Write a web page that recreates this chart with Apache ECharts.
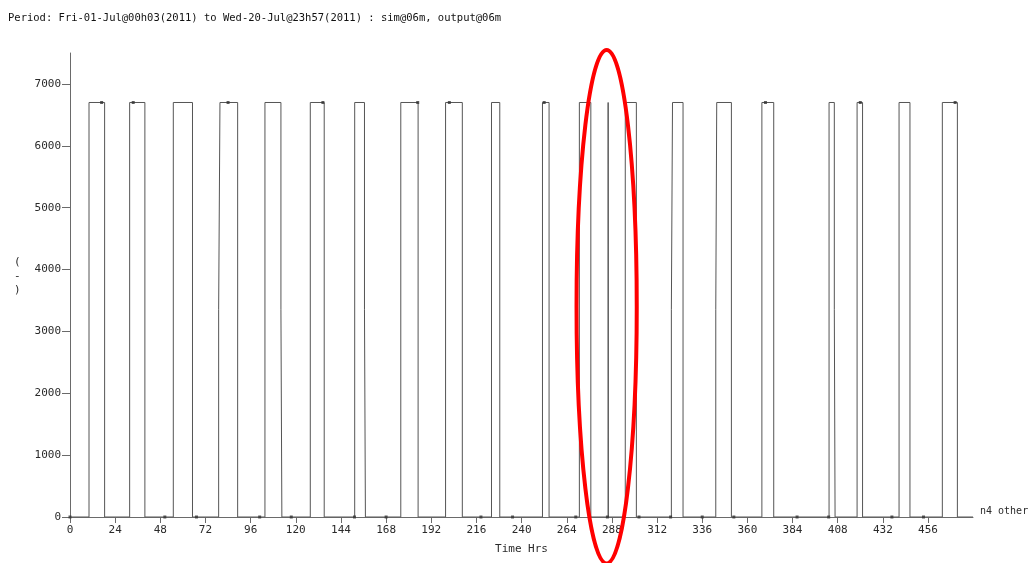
<!DOCTYPE html>
<html>
<head>
<meta charset="utf-8">
<title>n4 other</title>
<script src="https://cdn.jsdelivr.net/npm/echarts@6/dist/echarts.min.js"></script>
<style>
  html, body { margin: 0; padding: 0; background: #fff; }
  #chart { width: 1031px; height: 563px; }
</style>
</head>
<body>
<div id="chart"></div>
<script>
// Waveform of "n4 other": each entry is a change of level at a given hour;
// the level holds until the next change.
const changeHrs = [
  0,
  10.1, 18.4,
  31.7, 39.8,
  54.9, 65.1,
  79.0, 79.7, 89.1,
  103.6, 112.1, 112.6,
  127.7, 135.1,
  151.3, 156.5, 157.0,
  175.8, 185.0,
  199.6, 208.5,
  224.0, 228.4,
  251.1, 254.6,
  270.7, 276.8,
  286.0, 286.1,
  295.1, 301.0,
  319.6, 320.2, 325.8,
  343.2, 343.7, 351.5,
  367.7, 374.0,
  403.4, 406.2, 406.6,
  418.3, 421.2,
  440.6, 446.4,
  463.6, 471.6,
  479.9
];
const changeLevel = [
  0,
  6700, 0,
  6700, 0,
  6700, 0,
  3350, 6700, 0,
  6700, 3350, 0,
  6700, 0,
  6700, 3350, 0,
  6700, 0,
  6700, 0,
  6700, 0,
  6700, 0,
  6700, 0,
  6700, 0,
  6700, 0,
  3350, 6700, 0,
  3350, 6700, 0,
  6700, 0,
  6700, 3350, 0,
  6700, 0,
  6700, 0,
  6700, 0,
  0
];

// Output markers are drawn every 168 six-minute steps.
const markerStepHrs = 16.8;

const xTickLabels = [0, 24, 48, 72, 96, 120, 144, 168, 192, 216, 240, 264, 288,
                     312, 336, 360, 384, 408, 432, 456];
const yTickLabels = [0, 1000, 2000, 3000, 4000, 5000, 6000, 7000];

const periodText = 'Period: Fri-01-Jul@00h03(2011) to Wed-20-Jul@23h57(2011) : sim@06m, output@06m';
const seriesName = 'n4 other';
const xName = 'Time Hrs';
const yName = '(\n-\n)';

const MONO = '"DejaVu Sans Mono", "Liberation Mono", monospace';

const lineData = changeHrs.map((h, i) => [h, changeLevel[i]]);

function levelAt(h) {
  let v = changeLevel[0];
  for (let i = 0; i < changeHrs.length; i++) {
    if (changeHrs[i] <= h) v = changeLevel[i]; else break;
  }
  return v;
}
const markerData = [];
const lastHr = changeHrs[changeHrs.length - 1];
for (let k = 0; k * markerStepHrs <= lastHr; k++) {
  const h = +(k * markerStepHrs).toFixed(1);
  markerData.push([h, levelAt(h)]);
}

const chart = echarts.init(document.getElementById('chart'), null, { renderer: 'canvas' });

const axisColor = '#6a6a6a';
const textColor = '#2a2a2a';

chart.setOption({
  animation: false,
  backgroundColor: '#fff',
  title: {
    text: periodText,
    left: 3,
    top: 8,
    textStyle: { fontFamily: MONO, fontSize: 10.5, fontWeight: 'normal', color: '#111' }
  },
  grid: { left: 70, right: 58, top: 53, bottom: 46, containLabel: false },
  xAxis: {
    type: 'value',
    min: 0,
    max: lastHr,
    interval: 24,
    name: xName,
    nameLocation: 'middle',
    nameGap: 27,
    nameTextStyle: { fontFamily: MONO, fontSize: 11, color: textColor },
    axisLine: { show: true, onZero: false, lineStyle: { color: axisColor, width: 1 } },
    axisTick: { show: true, length: 6, customValues: xTickLabels, lineStyle: { color: axisColor } },
    axisLabel: {
      customValues: xTickLabels, margin: 8, fontFamily: MONO, fontSize: 11, color: textColor,
      formatter: v => String(v)
    },
    splitLine: { show: false }
  },
  yAxis: {
    type: 'value',
    min: 0,
    max: 7500,
    interval: 1000,
    axisLine: { show: true, lineStyle: { color: axisColor, width: 1 } },
    axisTick: { show: true, length: 8, customValues: yTickLabels, lineStyle: { color: axisColor } },
    axisLabel: {
      customValues: yTickLabels, margin: 9, fontFamily: MONO, fontSize: 11, color: textColor,
      formatter: v => String(v)
    },
    splitLine: { show: false }
  },
  series: [
    {
      name: seriesName,
      type: 'line',
      step: 'end',
      data: lineData,
      showSymbol: false,
      symbol: 'none',
      silent: true,
      lineStyle: { color: '#555', width: 1 },
      endLabel: {
        show: true,
        formatter: '{a}',
        distance: 7,
        offset: [0, -6],
        fontFamily: MONO,
        fontSize: 10,
        color: textColor
      },
      z: 2
    },
    {
      name: seriesName + ' markers',
      type: 'scatter',
      data: markerData,
      symbol: 'rect',
      symbolSize: 3,
      silent: true,
      itemStyle: { color: '#333' },
      z: 3
    }
  ]
});

// Red ring highlighting the short spike near hour 286.
const ringCenter = [285.2, 3400];
const ringHalfHrs = 16;
const ringHalfVal = 4150;
const c = chart.convertToPixel({ gridIndex: 0 }, ringCenter);
const ex = chart.convertToPixel({ gridIndex: 0 }, [ringCenter[0] + ringHalfHrs, ringCenter[1]]);
const ey = chart.convertToPixel({ gridIndex: 0 }, [ringCenter[0], ringCenter[1] + ringHalfVal]);
chart.setOption({
  graphic: [
    {
      type: 'text',
      left: 14,
      top: 255,
      silent: true,
      style: { text: yName, fontFamily: MONO, fontSize: 11, lineHeight: 14, fill: textColor, align: 'center' }
    },
    {
      type: 'ellipse',
      silent: true,
      z: 10,
      shape: { cx: c[0], cy: c[1], rx: ex[0] - c[0], ry: c[1] - ey[1] },
      style: { fill: 'none', stroke: '#ff0000', lineWidth: 4 }
    }
  ]
});
</script>
</body>
</html>
